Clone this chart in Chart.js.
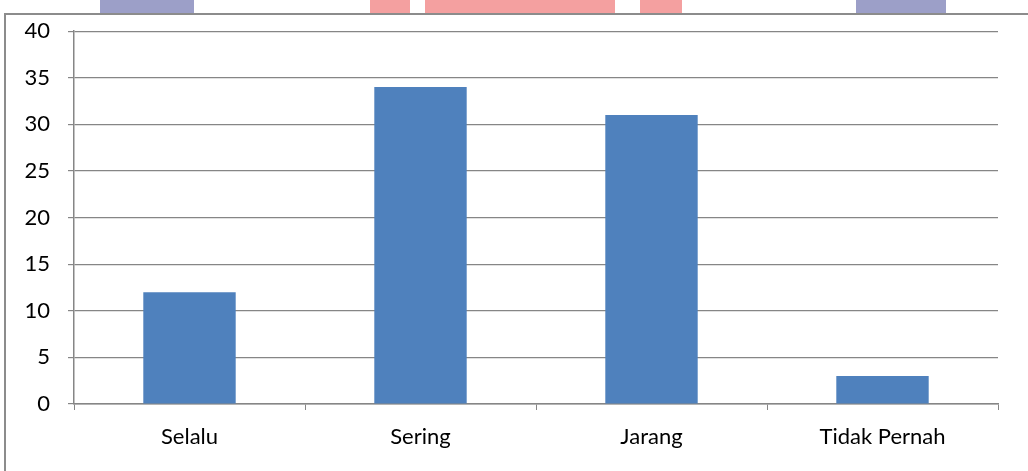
<!doctype html>
<html lang="en">
<head>
    <meta charset="utf-8">
    <title>Frekuensi</title>
    <script src="https://cdn.jsdelivr.net/npm/chart.js"></script>
    <style>
        body { margin: 0; width: 1028px; height: 471px; overflow: hidden; background: #fff; position: relative; }
        .wm { position: absolute; top: 0; height: 14px; }
        .blue { background: #9c9fc8; }
        .pink { background: #f4a0a0; }
        #frame { position: absolute; left: 4px; top: 13px; width: 1100px; height: 500px; border: 2px solid #8c8c8c; background: #fff; }
        #chartEl { position: absolute; left: 0; top: 0; }
    </style>
</head>
<body>
    <div class="wm blue" style="left:100px;width:94px"></div>
    <div class="wm pink" style="left:370px;width:40px"></div>
    <div class="wm pink" style="left:425px;width:190px"></div>
    <div class="wm pink" style="left:640px;width:42px"></div>
    <div class="wm blue" style="left:856px;width:90px"></div>
    <div id="frame"></div>
    <canvas id="chartEl" width="1028" height="471"></canvas>
    <script>
        // categories and counts
        const categories = ['Selalu', 'Sering', 'Jarang', 'Tidak Pernah'];
        const counts = [12, 34, 31, 3];
        const yMin = 0;
        const yMax = 40;
        const yStep = 5;

        const axisGray = '#868686';
        const font = { family: 'Lato, "Liberation Sans", sans-serif', size: 22 };

        const data = {
            labels: categories,
            datasets: [{
                data: counts,
                backgroundColor: '#4f81bd',
                borderWidth: 0,
                barPercentage: 0.4,
                categoryPercentage: 1,
            }]
        };

        new Chart(document.getElementById('chartEl'), {
            type: 'bar',
            data: data,
            options: {
                responsive: false,
                animation: false,
                layout: { padding: { left: 0, right: 30, top: 29, bottom: 0 } },
                plugins: {
                    legend: { display: false },
                    tooltip: { enabled: false }
                },
                scales: {
                    x: {
                        grid: { drawOnChartArea: false, drawTicks: true, tickLength: 6, color: axisGray, offset: true },
                        border: { color: axisGray, width: 1.5 },
                        ticks: { color: '#000', font: font, padding: 14 },
                        afterFit: (scale) => { scale.height = 67; }
                    },
                    y: {
                        min: yMin,
                        max: yMax,
                        grid: { color: axisGray, lineWidth: 1.2, tickLength: 6 },
                        border: { color: axisGray, width: 1.5 },
                        ticks: { stepSize: yStep, color: '#000', font: font, padding: 18 },
                        afterFit: (scale) => { scale.width = 74; }
                    }
                }
            }
        });
    </script>
</body>
</html>
